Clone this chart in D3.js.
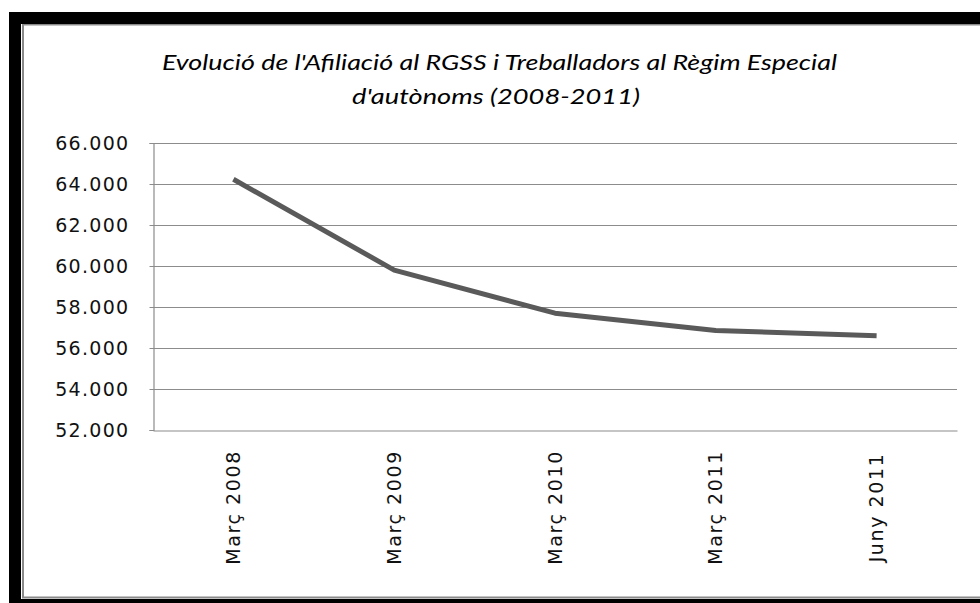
<!DOCTYPE html>
<html>
<head>
<meta charset="utf-8">
<script src="https://cdn.jsdelivr.net/npm/d3@7"></script>
<style>
  html, body { margin: 0; padding: 0; background: #fff; }
  svg { display: block; }
</style>
</head>
<body>
<svg id="chart" width="980" height="603"></svg>
<script>
const categories = ["Març 2008", "Març 2009", "Març 2010", "Març 2011", "Juny 2011"];
const values = [64230, 59800, 57700, 56850, 56600];
const yTicks = [52000, 54000, 56000, 58000, 60000, 62000, 64000, 66000];
const titleLines = ["Evolució de l'Afiliació al RGSS i Treballadors al Règim Especial", "d'autònoms (2008-2011)"];

const svg = d3.select("#chart");
const W = 980, H = 603;
const plot = { left: 153, right: 957, top: 143, bottom: 430 };

// frame
svg.append("rect").attr("x", 0).attr("y", 0).attr("width", W).attr("height", H).attr("fill", "#fff");
svg.append("rect").attr("x", 9).attr("y", 12).attr("width", W - 9).attr("height", 12).attr("fill", "#000");
svg.append("rect").attr("x", 9).attr("y", 12).attr("width", 12).attr("height", H - 12).attr("fill", "#000");
svg.append("rect").attr("x", 9).attr("y", 599).attr("width", W - 9).attr("height", 4).attr("fill", "#000");
svg.append("rect").attr("x", 22).attr("y", 24).attr("width", 2).attr("height", 574).attr("fill", "#8a8a8a");
svg.append("rect").attr("x", 22).attr("y", 24).attr("width", W - 22).attr("height", 1.5).attr("fill", "#8a8a8a");
svg.append("rect").attr("x", 22).attr("y", 596.5).attr("width", W - 22).attr("height", 2).attr("fill", "#8a8a8a");

// title
const title = svg.append("g").attr("font-family", "Lato, 'Open Sans', sans-serif")
  .attr("font-style", "italic").attr("font-size", 22).attr("fill", "#000").attr("text-anchor", "middle");
title.append("text").attr("x", 499.5).attr("y", 70).attr("textLength", 675).attr("lengthAdjust", "spacingAndGlyphs").text(titleLines[0]);
title.append("text").attr("x", 496).attr("y", 104).attr("textLength", 288).attr("lengthAdjust", "spacingAndGlyphs").text(titleLines[1]);

const x = d3.scaleBand().domain(categories).range([plot.left, plot.right]);
const y = d3.scaleLinear().domain([52000, 66000]).range([plot.bottom, plot.top]);

const fmt = v => d3.format(",")(v).replace(/,/g, ".");

// gridlines
svg.append("g").selectAll("line").data(yTicks.filter(t => t !== 52000)).join("line")
  .attr("x1", plot.left).attr("x2", plot.right)
  .attr("y1", d => Math.round(y(d)) + 0.5).attr("y2", d => Math.round(y(d)) + 0.5)
  .attr("stroke", "#8c8c8c").attr("stroke-width", 1.2);

// y axis
const yAxis = svg.append("g").attr("transform", `translate(${plot.left + 0.5},0)`)
  .call(d3.axisLeft(y).tickValues(yTicks).tickFormat(fmt).tickSize(4).tickPadding(20));
yAxis.select(".domain").attr("stroke", "#8c8c8c").attr("stroke-width", 1.2);
yAxis.selectAll(".tick line").attr("stroke", "#8c8c8c");
yAxis.selectAll("text").attr("font-family", "'DejaVu Sans', sans-serif").attr("font-size", 19)
  .attr("letter-spacing", "1.3px").attr("fill", "#111").attr("dy", "0.35em");

// x axis
const xAxis = svg.append("g").attr("transform", `translate(0,${plot.bottom + 0.5})`)
  .call(d3.axisBottom(x).tickSize(0).tickPadding(0));
xAxis.select(".domain").attr("stroke", "#8c8c8c").attr("stroke-width", 1.2);
xAxis.selectAll(".tick text")
  .attr("font-family", "'DejaVu Sans', sans-serif").attr("font-size", 19).attr("fill", "#111")
  .attr("letter-spacing", "1.6px")
  .attr("text-anchor", "middle").attr("transform", "translate(0,77) rotate(-90)")
  .attr("x", 0).attr("y", 0).attr("dy", "0.35em");

// line
const line = d3.line().x((d, i) => x(categories[i]) + x.bandwidth() / 2).y(d => y(d));
svg.append("path").datum(values).attr("d", line)
  .attr("fill", "none").attr("stroke", "#5a5a5a").attr("stroke-width", 5)
  .attr("stroke-linejoin", "round");
</script>
</body>
</html>
